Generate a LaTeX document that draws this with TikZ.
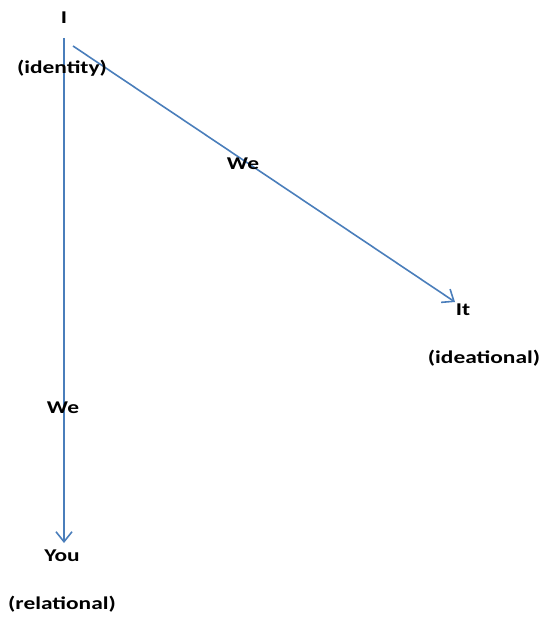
\documentclass[tikz,border=0pt]{standalone}
\usepackage{fontspec}
\setmainfont{Carlito}
\usetikzlibrary{arrows.meta}
\definecolor{lineblue}{RGB}{74,126,187}
\tikzset{
  lbl/.style={inner sep=0pt, font=\fontsize{18}{21}\selectfont\bfseries},
  conn/.style={draw=lineblue, line width=1.6pt, -{Straight Barb[length=10pt,width=16pt,line width=1.6pt]}}
}
\newcommand{\widetxt}[1]{\scalebox{1.3}[1]{#1}}
\begin{document}
\begin{tikzpicture}[x=1pt,y=-1pt]
\useasboundingbox (0,0) rectangle (541,617);
\coordinate (vs) at (64,38);
\coordinate (ve) at (64,543);
\coordinate (ds) at (73,46);
\coordinate (de) at (455,302);
\draw[conn] (vs) -- (ve);
\draw[conn] (ds) -- (de);
\node[lbl] (i) at (64,18) {\widetxt{I}};
\node[lbl] (identity) at (62,68) {\widetxt{(identity)}};
\node[lbl] (we1) at (243,164) {\widetxt{We}};
\node[lbl] (it) at (463,310) {\widetxt{It}};
\node[lbl] (ideational) at (484,358) {\widetxt{(ideational)}};
\node[lbl] (we2) at (63,408) {\widetxt{We}};
\node[lbl] (you) at (62,556) {\widetxt{You}};
\node[lbl] (relational) at (62,604) {\widetxt{(relational)}};
\end{tikzpicture}
\end{document}
